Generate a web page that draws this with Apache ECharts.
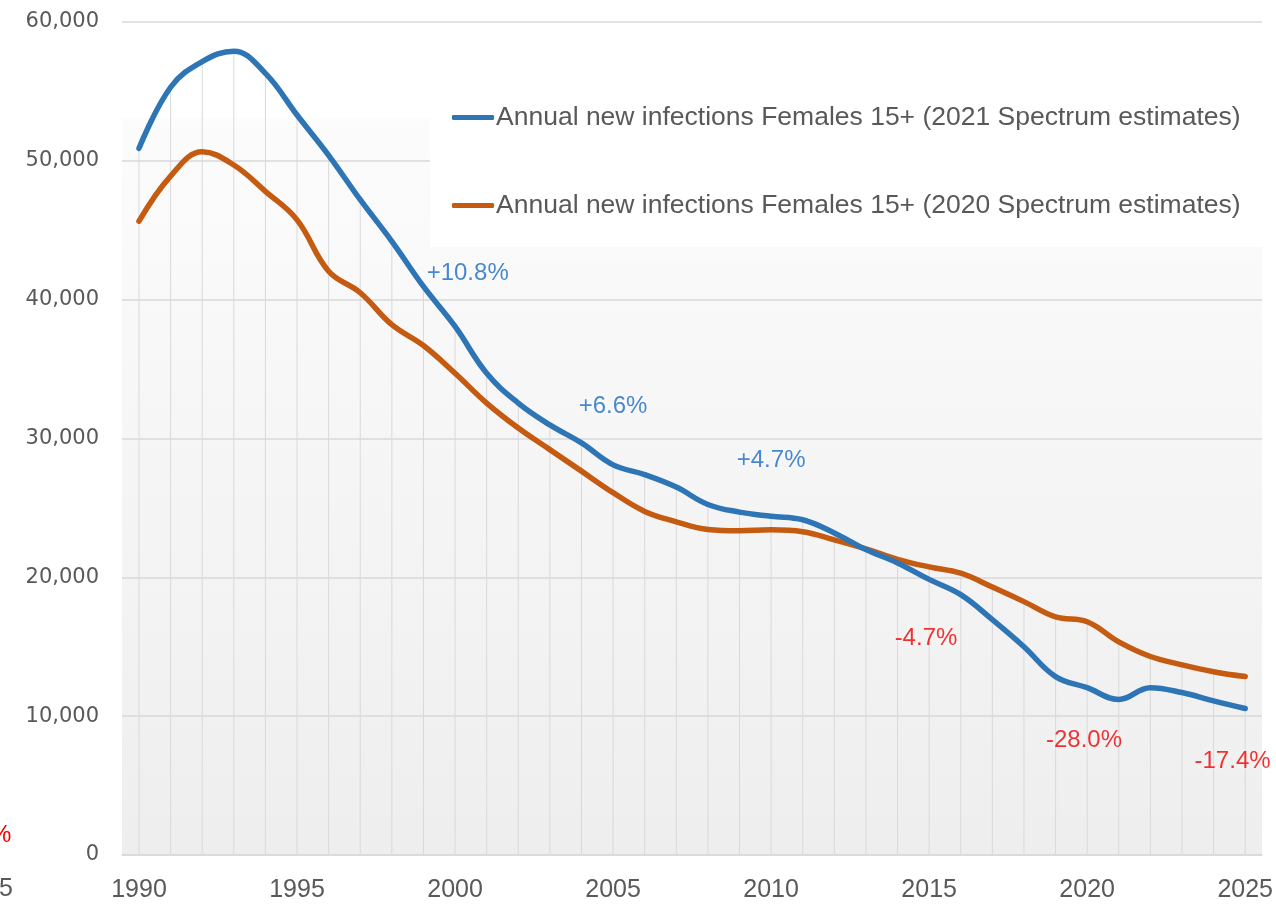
<!DOCTYPE html>
<html>
<head>
<meta charset="utf-8">
<script src="https://cdn.jsdelivr.net/npm/echarts@6/dist/echarts.min.js"></script>
<style>
html,body{margin:0;padding:0;background:#fff;}
#chart{width:1276px;height:911px;}
</style>
</head>
<body>
<div id="chart"></div>
<script>
// ---- data ----
const years = [1990,1991,1992,1993,1994,1995,1996,1997,1998,1999,2000,2001,2002,2003,2004,2005,2006,2007,2008,2009,2010,2011,2012,2013,2014,2015,2016,2017,2018,2019,2020,2021,2022,2023,2024,2025];
const est2021 = [50900,55300,57150,57900,56300,53300,50400,47200,44200,40950,38070,34700,32550,30980,29680,28100,27400,26500,25250,24700,24400,24150,23200,22000,21040,19850,18750,16950,15000,12850,12050,11200,12050,11700,11100,10550];
const est2020 = [45650,48900,50650,49700,47800,45750,42050,40500,38200,36700,34700,32550,30750,29200,27650,26100,24750,24000,23450,23350,23420,23280,22700,22050,21300,20750,20300,19300,18250,17150,16800,15350,14300,13700,13200,12850];
const seriesNames = [
  'Annual new infections Females 15+ (2021 Spectrum estimates)',
  'Annual new infections Females 15+ (2020 Spectrum estimates)'
];
// annotations: [year, value, text, kind]
const annotations = [
  [2000.4, 41860, '+10.8%', 'up'],
  [2005.0, 32280, '+6.6%', 'up'],
  [2010.0, 28390, '+4.7%', 'up'],
  [2014.9, 15630, '-4.7%', 'down'],
  [2019.9, 8290, '-28.0%', 'down'],
  [2024.6, 6770, '-17.4%', 'down']
];
const yTicks = {min: 0, max: 60000, interval: 10000};

// ---- chart ----
const BLUE = '#2E75B6';
const ORANGE = '#C55A11';
const chart = echarts.init(document.getElementById('chart'));

const annUp = annotations.filter(a => a[3] === 'up').map(a => ({value: [a[0], a[1]], text: a[2]}));
const annDown = annotations.filter(a => a[3] === 'down').map(a => ({value: [a[0], a[1]], text: a[2]}));
// drop lines: from the axis up to the higher of the two series each year
const dropLines = years.map((y, i) => [y, Math.max(est2021[i], est2020[i])]);

function annSeries(data, color) {
  return {
    type: 'scatter', xAxisIndex: 1, yAxisIndex: 1, data: data,
    symbolSize: 0, silent: true, clip: false, z: 5,
    label: {
      show: true, position: 'inside',
      formatter: p => p.data.text,
      fontFamily: 'Liberation Sans, Arial, sans-serif', fontSize: 24,
      color: color, textShadowColor: 'rgba(255,255,255,0.9)', textShadowBlur: 6
    }
  };
}

const option = {
  animation: false,
  backgroundColor: '#ffffff',
  grid: [
    {left: 122, right: 14, top: 22, bottom: 56, show: true, borderWidth: 0,
     backgroundColor: new echarts.graphic.LinearGradient(0, 0, 0, 1, [
       {offset: 0, color: '#ffffff'},
       {offset: 0.114, color: '#ffffff'},
       {offset: 0.116, color: '#fcfcfc'},
       {offset: 1, color: '#eeeeee'}
     ])},
    {left: 139, right: 28, top: 22, bottom: 56}
  ],
  xAxis: [
    {gridIndex: 0, type: 'value', min: 0, max: 1, show: true,
     axisLine: {show: true, lineStyle: {color: '#d9d9d9', width: 1.5}},
     axisTick: {show: false}, axisLabel: {show: false}, splitLine: {show: false}},
    {gridIndex: 1, type: 'value', min: years[0], max: years[years.length - 1], interval: 1,
     axisLine: {show: false}, axisTick: {show: false},
     axisLabel: {
       formatter: v => (v % 5 === 0 ? String(v) : ''),
       fontFamily: 'Liberation Sans, Arial, sans-serif', fontSize: 25,
       color: '#595959', margin: 23, showMinLabel: true, showMaxLabel: true
     },
     splitLine: {show: false}}
  ],
  yAxis: [
    {gridIndex: 0, type: 'value', min: yTicks.min, max: yTicks.max, interval: yTicks.interval,
     axisLine: {show: false}, axisTick: {show: false},
     axisLabel: {
       formatter: v => v.toLocaleString('en-US'),
       fontFamily: 'DejaVu Sans, sans-serif', fontSize: 21, color: '#595959', margin: 23
     },
     splitLine: {show: true, lineStyle: {color: '#d9d9d9', width: 1.5}}},
    {gridIndex: 1, type: 'value', min: yTicks.min, max: yTicks.max, interval: yTicks.interval,
     show: false, splitLine: {show: false}}
  ],
  legend: {
    orient: 'vertical', left: 430, top: 64,
    backgroundColor: '#ffffff',
    padding: [40, 24, 28, 22],
    itemWidth: 42, itemHeight: 5, itemGap: 61,
    icon: 'roundRect',
    textStyle: {fontFamily: 'Liberation Sans, Arial, sans-serif', fontSize: 26.5,
                lineHeight: 26, color: '#595959', padding: [0, 0, 0, -3]},
    data: seriesNames
  },
  series: [
    {name: 'drop', type: 'bar', xAxisIndex: 1, yAxisIndex: 1, barWidth: 1,
     silent: true, z: 1, itemStyle: {color: '#d9d9d9'}, data: dropLines},
    {name: seriesNames[0], type: 'line', xAxisIndex: 1, yAxisIndex: 1, smooth: 0.4,
     showSymbol: false, color: BLUE, z: 3,
     lineStyle: {width: 5.5, color: BLUE, cap: 'round'},
     data: years.map((y, i) => [y, est2021[i]])},
    {name: seriesNames[1], type: 'line', xAxisIndex: 1, yAxisIndex: 1, smooth: 0.4,
     showSymbol: false, color: ORANGE, z: 2,
     lineStyle: {width: 5.5, color: ORANGE, cap: 'round'},
     data: years.map((y, i) => [y, est2020[i]])},
    annSeries(annUp, '#1A6BC4'),
    annSeries(annDown, '#F00000')
  ],
  graphic: [
    {type: 'text', left: -10, top: 823, silent: true,
     style: {text: '%', font: '24px "Liberation Sans", Arial, sans-serif', fill: '#F00000'}},
    {type: 'text', left: -1, top: 877, silent: true,
     style: {text: '5', font: '25px "Liberation Sans", Arial, sans-serif', fill: '#595959'}}
  ]
};
chart.setOption(option);
</script>
</body>
</html>
